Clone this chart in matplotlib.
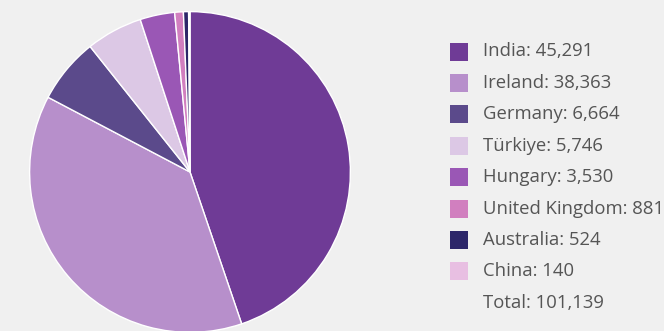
import matplotlib
matplotlib.use('Agg')
from matplotlib import pyplot as plt
from matplotlib.patches import Rectangle

countries = ['India', 'Ireland', 'Germany', 'Türkiye', 'Hungary',
             'United Kingdom', 'Australia', 'China']
values = [45291, 38363, 6664, 5746, 3530, 881, 524, 140]
colors = ['#6f3b96', '#b78fcb', '#5b4a8b', '#dcc8e5', '#9a57b5',
          '#d17fbf', '#2c2669', '#e8bfe2']
total = 101139

bg = '#f0f0f0'
W, H = 664, 331
fig = plt.figure(figsize=(W / 100, H / 100), dpi=100, facecolor=bg)
plt.rcParams['font.family'] = ['Open Sans', 'DejaVu Sans']

# pie: center ~ (190, 172) px, radius ~162 px
cx, cy, r = 190, 172, 162
ax = fig.add_axes([(cx - r) / W, (H - cy - r) / H, 2 * r / W, 2 * r / H])
ax.set_facecolor(bg)
ax.pie(values, colors=colors, startangle=90, counterclock=False,
       radius=1, wedgeprops={'edgecolor': 'white', 'linewidth': 1})
ax.set_xlim(-1.01, 1.01)
ax.set_ylim(-1.01, 1.01)
ax.set_aspect('equal')
ax.axis('off')

# legend, drawn by hand
y0, step = 51.5, 31.4
for i, (name, val, col) in enumerate(zip(countries, values, colors)):
    yc = y0 + i * step
    fig.patches.append(Rectangle((450 / W, (H - yc - 9) / H), 18 / W, 18 / H,
                                 transform=fig.transFigure, facecolor=col,
                                 edgecolor='none'))
    fig.text(483 / W, (H - yc) / H, f'{name}: {val:,}', fontsize=13.3,
             color='#555555', va='center', ha='left')
yc = y0 + len(countries) * step
fig.text(483 / W, (H - yc) / H, f'Total: {total:,}', fontsize=13.3,
         color='#555555', va='center', ha='left')

fig.savefig('out.png', dpi=100, facecolor=bg)
